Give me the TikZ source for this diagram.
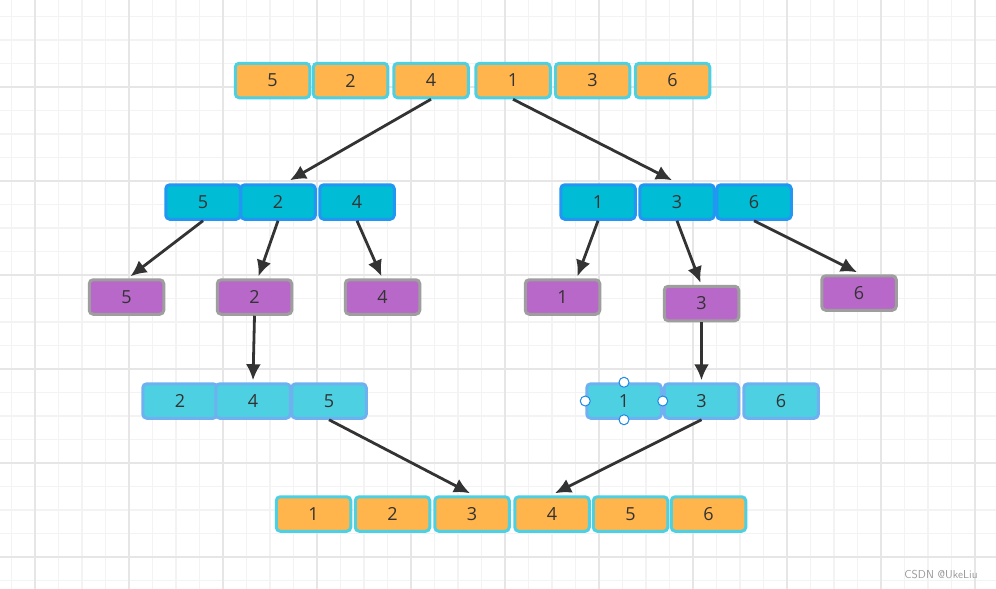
\documentclass[tikz,border=0pt]{standalone}
\usepackage{fontspec}
\setmainfont{Open Sans}
\usepackage{tikz}
\usetikzlibrary{arrows.meta}
\usetikzlibrary{positioning}
\definecolor{gridminor}{HTML}{F3F3F3}
\definecolor{gridmajor}{HTML}{E6E6E6}
\definecolor{morange}{HTML}{FFB44C}
\definecolor{mcyan}{HTML}{4DD0E1}
\definecolor{mteal}{HTML}{00BCD4}
\definecolor{mblue}{HTML}{2196F3}
\definecolor{mpurple}{HTML}{B868C8}
\definecolor{mgrey}{HTML}{9E9E9E}
\definecolor{mlight}{HTML}{6FB1F0}
\definecolor{ink}{HTML}{333333}
\definecolor{handleblue}{HTML}{1E88E5}
\tikzset{cell/.style = {rectangle, rounded corners = 4, line width = 3,
                        minimum width = 74.5, minimum height = 34.5, inner sep = 0,
                        text = ink, font = \fontsize{18}{20}\selectfont}}
\tikzset{inbox/.style = {cell, fill = morange, draw = mcyan}}
\tikzset{halfbox/.style = {cell, fill = mteal, draw = mblue}}
\tikzset{onebox/.style = {cell, fill = mpurple, draw = mgrey}}
\tikzset{mergebox/.style = {cell, fill = mcyan, draw = mlight}}
\tikzset{arr/.style = {draw = ink, line width = 2.8,
                       -{Latex[length = 16, width = 15]}}}
\tikzset{handle/.style = {circle, fill = white, draw = handleblue, line width = 1,
                          minimum size = 10, inner sep = 0}}

\begin{document}
\begin{tikzpicture}[x = 1pt, y = -1pt]
      \useasboundingbox [fill = white] (0, 0) rectangle (996, 589);
      \foreach \gx in {0, ..., 42}
        \draw [gridminor, line width = 1.2] (11.5 + 23.5*\gx, 0) -- (11.5 + 23.5*\gx, 589);
      \foreach \gy in {0, ..., 25}
        \draw [gridminor, line width = 1.2] (0, 16.5 + 23.5*\gy) -- (996, 16.5 + 23.5*\gy);
      \foreach \gx in {0, ..., 10}
        \draw [gridmajor, line width = 1.5] (35 + 94*\gx, 0) -- (35 + 94*\gx, 589);
      \foreach \gy in {0, ..., 5}
        \draw [gridmajor, line width = 1.5] (0, 87 + 94*\gy) -- (996, 87 + 94*\gy);

      \foreach \x/\v [count=\i] in {272.5/5, 350.5/2, 431/4, 513/1, 592.5/3, 672.5/6}
        \node [inbox] (s\i) at (\x, 80.5) {\v};

      \node [halfbox] (l1) at (203, 202) {5};
      \node [halfbox] (l2) at (278, 202) {2};
      \node [halfbox] (l3) at (357, 202) {4};
      \node [halfbox] (r1) at (598, 202) {1};
      \node [halfbox] (r2) at (677, 202) {3};
      \node [halfbox] (r3) at (754, 202) {6};

      \node [onebox] (p1) at (126.5, 297) {5};
      \node [onebox] (p2) at (254.5, 297) {2};
      \node [onebox] (p3) at (382.5, 297) {4};
      \node [onebox] (p4) at (562.5, 297) {1};
      \node [onebox] (p5) at (701.5, 303.5) {3};
      \node [onebox] (p6) at (859, 293) {6};

      \node [mergebox] (ml1) at (180, 401) {2};
      \node [mergebox] (ml2) at (253, 401) {4};
      \node [mergebox] (ml3) at (329, 401) {5};
      \node [mergebox] (mr1) at (624, 401) {1};
      \node [mergebox] (mr2) at (701.5, 401) {3};
      \node [mergebox] (mr3) at (781, 401) {6};

      \foreach \x/\v [count=\i] in {313.5/1, 392.5/2, 472/3, 552/4, 630.5/5, 708.5/6}
        \node [inbox] (o\i) at (\x, 514) {\v};

      \node [handle] (hn) at (mr1.north) {};
      \node [handle] (hs) at (mr1.south) {};
      \node [handle] (hw) at (mr1.west) {};
      \node [handle] (he) at (mr1.east) {};

      \draw [arr] (s3.south) -- ([xshift = 12, yshift = 3]l2.north);
      \draw [arr] (s4.south) -- ([xshift = -5, yshift = 3]r2.north);
      \draw [arr] (l1.south) -- ([xshift = 4, yshift = 2]p1.north);
      \draw [arr] (l2.south) -- ([xshift = 4, yshift = 2]p2.north);
      \draw [arr] (l3.south) -- ([xshift = -1, yshift = 2]p3.north);
      \draw [arr] (r1.south) -- ([xshift = 15, yshift = 2]p4.north);
      \draw [arr] (r2.south) -- ([xshift = -1, yshift = 2]p5.north);
      \draw [arr] (r3.south) -- ([xshift = -2, yshift = 2]p6.north);
      \draw [arr] (p2.south) -- ([yshift = 2]ml2.north);
      \draw [arr] (p5.south) -- ([yshift = 2]mr2.north);
      \draw [arr] (ml3.south) -- ([xshift = -2, yshift = 2]o3.north);
      \draw [arr] (mr2.south) -- ([xshift = 3, yshift = 2]o4.north);

      \node [text = black!40, font = \fontsize{11.5}{13}\sffamily] (mark) at (941, 575) {CSDN @UkeLiu};
    \end{tikzpicture}
\end{document}
